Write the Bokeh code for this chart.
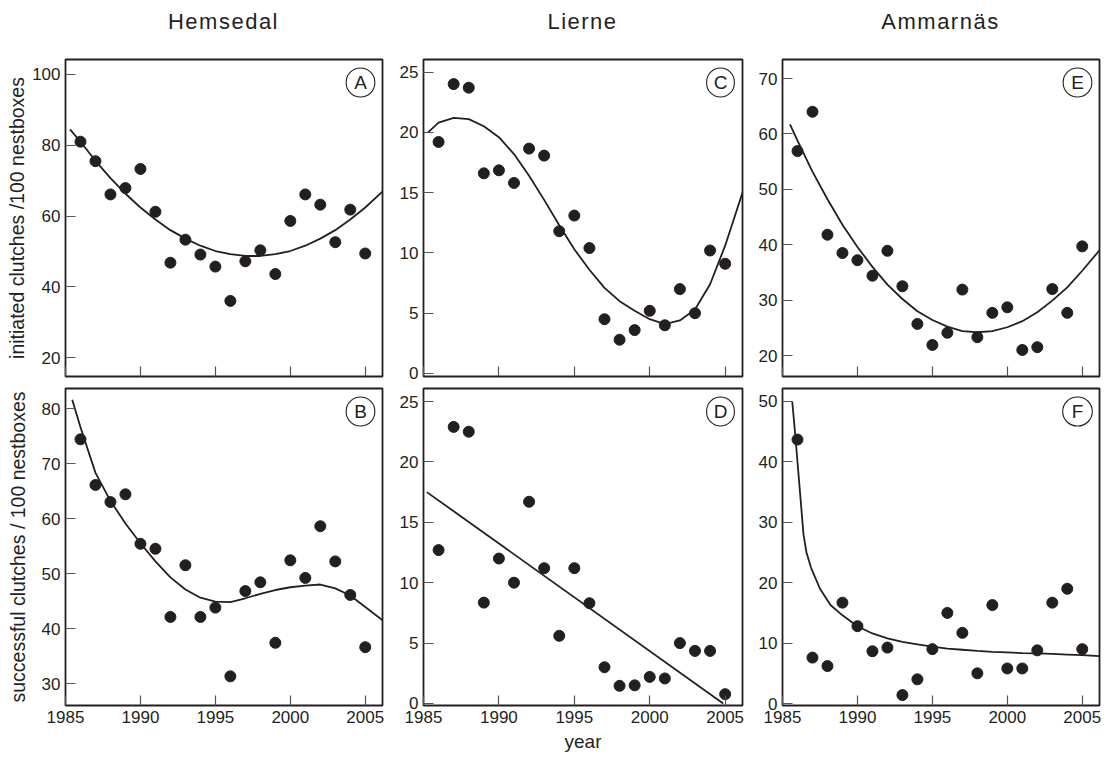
from bokeh.plotting import figure
from bokeh.layouts import column, row
from bokeh.models import Div, Spacer, Label, FixedTicker, Range1d
from bokeh.embed import file_html
from bokeh.resources import INLINE

# ---------------- data ----------------
sites = ["Hemsedal", "Lierne", "Ammarnäs"]
years = list(range(1986, 2006))
x_ticks = [1985, 1990, 1995, 2000, 2005]

# Hemsedal
hem_init = [81.0, 75.5, 66.1, 67.9, 73.3, 61.2, 46.8, 53.3, 49.1, 45.7,
            36.0, 47.2, 50.3, 43.6, 58.6, 66.1, 63.2, 52.6, 61.8, 49.4]
hem_succ = [74.4, 66.1, 63.0, 64.4, 55.4, 54.5, 42.1, 51.5, 42.1, 43.8,
            31.3, 46.8, 48.4, 37.4, 52.4, 49.2, 58.6, 52.2, 46.1, 36.6]
# Lierne
lie_init = [19.2, 24.0, 23.7, 16.6, 16.85, 15.8, 18.65, 18.07, 11.8, 13.1,
            10.4, 4.5, 2.8, 3.6, 5.2, 4.0, 7.0, 5.0, 10.2, 9.1]
lie_succ = [12.7, 22.9, 22.5, 8.35, 12.0, 10.0, 16.7, 11.2, 5.6, 11.2,
            8.3, 3.0, 1.46, 1.5, 2.2, 2.07, 5.0, 4.35, 4.35, 0.77]
# Ammarnäs
amm_init = [56.9, 64.0, 41.8, 38.5, 37.2, 34.4, 38.9, 32.5, 25.7, 21.9,
            24.1, 31.9, 23.3, 27.7, 28.7, 21.0, 21.5, 32.0, 27.7, 39.7]
amm_succ = [43.7, 7.6, 6.2, 16.7, 12.8, 8.65, 9.26, 1.4, 4.0, 9.0,
            15.0, 11.7, 5.0, 16.3, 5.8, 5.8, 8.8, 16.7, 19.0, 9.0]

# fitted curves
fitA_x = [1985.3, 1986, 1987, 1988, 1989, 1990, 1991, 1992, 1993, 1994, 1995,
          1996, 1997, 1998, 1999, 2000, 2001, 2002, 2003, 2004, 2005, 2006.2]
fitA_y = [84.5, 81.0, 75.6, 70.7, 66.3, 62.4, 59.0, 56.0, 53.6, 51.6, 50.1,
          49.2, 48.7, 48.7, 49.2, 50.1, 51.6, 53.6, 56.0, 59.0, 62.4, 67.1]

fitB_x = [1985.45, 1986, 1987, 1988, 1989, 1990, 1991, 1992, 1993, 1994, 1995,
          1996, 1997, 1998, 1999, 2000, 2001, 2002, 2003, 2004, 2005, 2006.2]
fitB_y = [81.6, 76.6, 68.3, 63.2, 59.1, 55.5, 52.2, 49.3, 47.1, 45.6, 44.9,
          44.8, 45.5, 46.3, 47.0, 47.5, 47.8, 48.0, 47.3, 46.0, 43.9, 41.4]

fitC_x = [1985.3, 1986, 1987, 1988, 1989, 1990, 1991, 1992, 1993, 1994, 1995,
          1996, 1997, 1998, 1999, 2000, 2001, 2002, 2003, 2004, 2005, 2006.2]
fitC_y = [20.0, 20.8, 21.2, 21.1, 20.5, 19.6, 18.2, 16.4, 14.4, 12.3, 10.3,
          8.6, 7.1, 6.0, 5.2, 4.5, 4.1, 4.4, 5.3, 7.4, 10.6, 15.2]

fitD_x = [1985.22, 2004.87]
fitD_y = [17.5, 0.0]

fitE_x = [1985.5, 1986, 1987, 1988, 1989, 1990, 1991, 1992, 1993, 1994, 1995,
          1996, 1997, 1998, 1999, 2000, 2001, 2002, 2003, 2004, 2005, 2006.15]
fitE_y = [61.7, 58.8, 53.2, 48.2, 43.6, 39.6, 36.0, 32.8, 30.2, 28.0, 26.4,
          25.2, 24.4, 24.2, 24.4, 25.1, 26.2, 27.8, 29.9, 32.3, 35.3, 39.0]

fitF_x = [1985.65, 1985.85, 1986.05, 1986.2, 1986.4, 1986.6, 1986.9, 1987.5,
          1988.2, 1989, 1990, 1991, 1992, 1993, 1994, 1995, 1996, 1997, 1998,
          1999, 2000, 2001, 2002, 2003, 2004, 2005, 2006.15]
fitF_y = [50.0, 44.5, 38.5, 34.0, 28.0, 25.0, 22.5, 19.0,
          16.3, 14.6, 12.8, 11.6, 10.8, 10.2, 9.8, 9.4, 9.1, 8.9, 8.7,
          8.55, 8.45, 8.35, 8.3, 8.2, 8.1, 8.0, 7.85]

yticks_A = [20, 40, 60, 80, 100]
yticks_B = [30, 40, 50, 60, 70, 80]
yticks_C = [0, 5, 10, 15, 20, 25]
yticks_D = [0, 5, 10, 15, 20, 25]
yticks_E = [20, 30, 40, 50, 60, 70]
yticks_F = [0, 10, 20, 30, 40, 50]

ylabel_top = "initiated clutches /100 nestboxes"
ylabel_bottom = "successful clutches / 100 nestboxes"
xlabel = "year"

# ---------------- styling ----------------
INK = "#231f20"
FONT = "Liberation Sans"
X_END = 2006.15


def make_panel(pts_y, fx, fy, letter, ylo, yhi, yticks, width, height,
               left, right, top, bottom, top_row, ylab=None, ylab_standoff=0,
               xlab=None):
    p = figure(width=width, height=height,
               x_range=Range1d(1985, X_END), y_range=Range1d(ylo, yhi),
               output_backend="svg", toolbar_location=None, title=None,
               min_border_left=left, min_border_right=right,
               min_border_top=top, min_border_bottom=bottom, margin=0)
    p.xgrid.visible = False
    p.ygrid.visible = False
    p.outline_line_color = INK
    p.outline_line_width = 1.8
    p.outline_line_alpha = 1.0
    p.background_fill_color = "white"
    p.border_fill_color = "white"
    for ax in (p.xaxis[0], p.yaxis[0]):
        ax.axis_line_color = None
        ax.major_tick_in = 10
        ax.major_tick_out = 0
        ax.minor_tick_line_color = None
        ax.major_tick_line_color = "#555555"
        ax.major_tick_line_width = 1.2
        ax.major_label_text_font = FONT
        ax.major_label_text_font_size = "17px"
        ax.major_label_text_color = INK
        ax.major_label_standoff = 5
        ax.axis_label_text_font = FONT
        ax.axis_label_text_font_style = "normal"
        ax.axis_label_text_color = INK
    p.xaxis.ticker = FixedTicker(ticks=x_ticks)
    p.yaxis.ticker = FixedTicker(ticks=yticks)
    if top_row:
        p.xaxis.major_label_overrides = {t: "" for t in x_ticks}
        p.xaxis.major_label_standoff = 0
    if ylab:
        p.yaxis.axis_label = ylab
        p.yaxis.axis_label_text_font_size = "19.5px"
        p.yaxis.axis_label_standoff = ylab_standoff
    if xlab:
        p.xaxis.axis_label = xlab
        p.xaxis.axis_label_text_font_size = "19px"
        p.xaxis.axis_label_standoff = 5

    p.line(fx, fy, line_color=INK, line_width=1.8)
    p.scatter(years, pts_y, size=11, fill_color=INK, line_color=INK)

    hpad = {"A": 8, "B": 8, "C": 7, "D": 7, "E": 8, "F": 9}[letter]
    p.add_layout(Label(x=X_END, y=yhi, x_offset=-22, y_offset=-23, text=letter,
                       text_align="center", text_baseline="middle",
                       text_font=FONT, text_font_size="19px", text_color=INK,
                       border_line_color=INK, border_line_width=1.1,
                       background_fill_color="white", border_radius=15,
                       padding=(hpad, 4)))
    return p


# column geometry: frames at x 65-382, 423-742, 782-1099
pA = make_panel(hem_init, fitA_x, fitA_y, "A", 14.63, 104.24, yticks_A, 392, 342,
                65, 10, 19, 6, True, ylabel_top, 1)
pC = make_panel(lie_init, fitC_x, fitC_y, "C", -0.25, 26.04, yticks_C, 360, 342,
                31, 10, 19, 6, True)
pE = make_panel(amm_init, fitE_x, fitE_y, "E", 16.21, 73.43, yticks_E, 362, 342,
                30, 15, 19, 6, True)

pB = make_panel(hem_succ, fitB_x, fitB_y, "B", 26.0, 83.64, yticks_B, 392, 375,
                65, 10, 6, 52, False, ylabel_bottom, 10)
pD = make_panel(lie_succ, fitD_x, fitD_y, "D", -0.17, 26.08, yticks_D, 360, 375,
                31, 10, 6, 52, False, None, 0, xlabel)
pF = make_panel(amm_succ, fitF_x, fitF_y, "F", -0.33, 52.15, yticks_F, 362, 375,
                30, 15, 6, 52, False)

title_style = {"font-family": FONT, "font-size": "22px", "letter-spacing": "1.5px",
               "text-align": "center", "color": INK}


def title_div(txt, w):
    return Div(text='<div style="padding-top:6px">' + txt + '</div>',
               width=w, height=40, margin=0, styles=dict(title_style))


def gap(w):
    return Spacer(width=w, height=40, margin=0)


titles = row(gap(65), title_div(sites[0], 317), gap(41), title_div(sites[1], 319),
             gap(40), title_div(sites[2], 317), gap(15), spacing=0, margin=0)

layout = column(titles,
                row(pA, pC, pE, spacing=0, margin=0),
                row(pB, pD, pF, spacing=0, margin=0),
                spacing=0, margin=0)

open("out.html", "w").write(file_html(layout, INLINE))
